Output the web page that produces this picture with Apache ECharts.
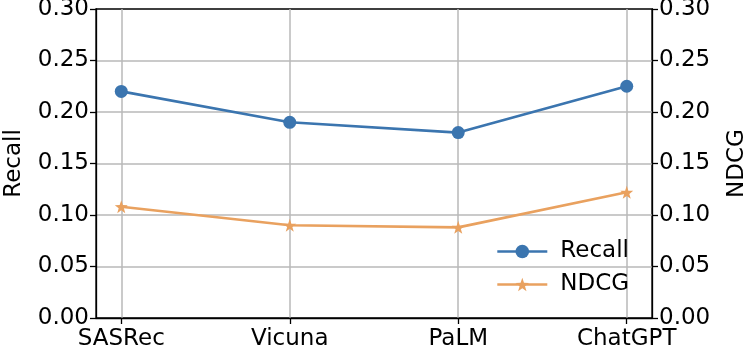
<!DOCTYPE html>
<html>
<head>
<meta charset="utf-8">
<script src="https://cdn.jsdelivr.net/npm/echarts@6/dist/echarts.min.js"></script>
<style>
  html, body { margin: 0; padding: 0; background: #fff; }
  #main { width: 747px; height: 354px; }
</style>
</head>
<body>
<div id="main"></div>
<script>
// data
const categories = ["SASRec", "Vicuna", "PaLM", "ChatGPT"];
const recall = [0.220, 0.190, 0.180, 0.225];
const ndcg = [0.108, 0.090, 0.088, 0.122];

const font = "DejaVu Sans";
const blue = "#3b75af";
const orange = "#e9a15f";
const starPath = "path://M0,-10 L2.35,-3.24 L9.51,-3.09 L3.8,1.24 L5.88,8.09 L0,4 L-5.88,8.09 L-3.8,1.24 L-9.51,-3.09 L-2.35,-3.24 Z";

function pairs(vals) {
  return vals.map((v, i) => [i, v]);
}

const yAxisBase = {
  type: "value",
  min: 0,
  max: 0.3,
  interval: 0.05,
  nameLocation: "middle",
  nameRotate: 90,
  nameTextStyle: { fontFamily: font, fontSize: 23, color: "#000" },
  axisLine: { show: true, onZero: false, lineStyle: { color: "#000", width: 1.3 } },
  axisTick: { show: true, length: 6, lineStyle: { color: "#000", width: 1.3 } },
  axisLabel: {
    fontFamily: font, fontSize: 23, color: "#000", margin: 7,
    formatter: v => v.toFixed(2)
  }
};

var chart = echarts.init(document.getElementById("main"));
var option = {
  animation: false,
  backgroundColor: "#fff",
  grid: {
    left: 96, right: 95, top: 9, bottom: 36,
    outerBoundsMode: "none",
    containLabel: false,
    show: true, borderColor: "#000", borderWidth: 1.3
  },
  xAxis: {
    type: "value",
    min: -0.15,
    max: 3.15,
    axisLine: { show: true, onZero: false, lineStyle: { color: "#000", width: 1.3 } },
    axisTick: {
      show: true, length: 6, customValues: [0, 1, 2, 3],
      lineStyle: { color: "#000", width: 1.3 }
    },
    axisLabel: {
      customValues: [0, 1, 2, 3],
      fontFamily: font, fontSize: 23, color: "#000", margin: 10,
      formatter: v => categories[Math.round(v)]
    },
    splitLine: { show: true, lineStyle: { color: "#b8b8b8", width: 1.5 } }
  },
  yAxis: [
    Object.assign({}, yAxisBase, {
      position: "left", name: "Recall", nameGap: 70,
      splitLine: {
        show: true, showMinLine: false, showMaxLine: false,
        lineStyle: { color: "#b8b8b8", width: 1.5 }
      }
    }),
    Object.assign({}, yAxisBase, {
      position: "right", name: "NDCG", nameGap: 74,
      splitLine: { show: false }
    })
  ],
  legend: {
    orient: "vertical",
    left: 491,
    top: 235,
    itemWidth: 50,
    itemHeight: 17,
    itemGap: 10,
    lineStyle: { width: 2.6 },
    textStyle: { fontFamily: font, fontSize: 23, color: "#000", padding: [0, 0, 0, 8] },
    data: ["Recall", "NDCG"]
  },
  series: [
    {
      name: "Recall",
      type: "line",
      yAxisIndex: 0,
      data: pairs(recall),
      symbol: "circle",
      symbolSize: 13,
      itemStyle: { color: blue },
      lineStyle: { color: blue, width: 2.6 }
    },
    {
      name: "NDCG",
      type: "line",
      yAxisIndex: 1,
      data: pairs(ndcg),
      symbol: starPath,
      symbolSize: 13,
      itemStyle: { color: orange },
      lineStyle: { color: orange, width: 2.6 }
    }
  ]
};

chart.setOption(option);
</script>
</body>
</html>
